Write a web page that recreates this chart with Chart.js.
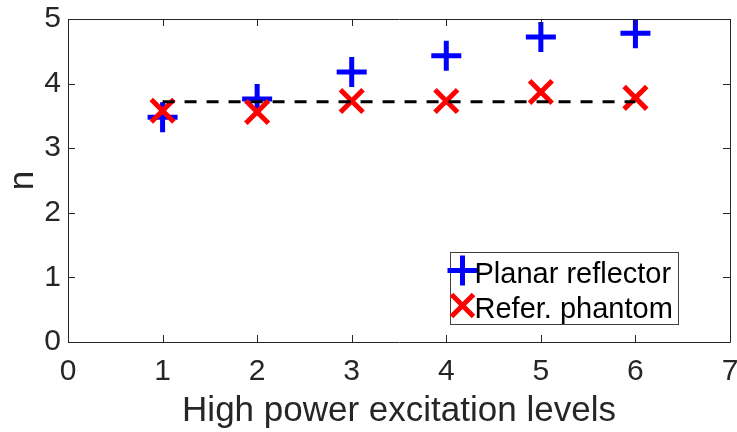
<!DOCTYPE html>
<html><head><meta charset="utf-8">
<script src="https://cdn.jsdelivr.net/npm/chart.js@4.4.1/dist/chart.umd.min.js"></script>
<style>html,body{margin:0;padding:0;background:#fff;overflow:hidden}#c{display:block}</style>
</head><body><canvas id="c" width="737" height="432" style="width:737px;height:432px"></canvas>
<script>
// ---- data ----
const levels = [1, 2, 3, 4, 5, 6];
const planarReflector = [3.48, 3.76, 4.18, 4.43, 4.72, 4.78];
const referPhantom = [3.58, 3.56, 3.73, 3.73, 3.87, 3.78];
const refLineX = [1, 6];
const refLineY = [3.72, 3.72];
const xTicks = [0, 1, 2, 3, 4, 5, 6, 7];
const yTicks = [0, 1, 2, 3, 4, 5];
const seriesLabels = ['Planar reflector', 'Refer. phantom'];
const xTitle = 'High power excitation levels';
const yTitle = 'n';

const FONT = "'Liberation Sans', Arial, Helvetica, sans-serif";
const AX = '#262626';

const toPts = (xs, ys) => xs.map((x, i) => ({x, y: ys[i]}));

const framePlugin = {
  id: 'frame',
  afterDraw(chart) {
    const {ctx, chartArea: a, scales: {x, y}} = chart;
    ctx.save();
    ctx.strokeStyle = AX;
    ctx.lineWidth = 1;
    ctx.beginPath();
    ctx.rect(Math.round(a.left) + 0.5, Math.round(a.top) + 0.5, Math.round(a.right - a.left), Math.round(a.bottom - a.top));
    ctx.stroke();
    const tl = 7;
    ctx.beginPath();
    xTicks.forEach(v => {
      const px = Math.round(x.getPixelForValue(v)) + 0.5;
      ctx.moveTo(px, a.bottom); ctx.lineTo(px, a.bottom - tl);
      ctx.moveTo(px, a.top); ctx.lineTo(px, a.top + tl);
    });
    yTicks.forEach(v => {
      const py = Math.round(y.getPixelForValue(v)) + 0.5;
      ctx.moveTo(a.left, py); ctx.lineTo(a.left + tl, py);
      ctx.moveTo(a.right, py); ctx.lineTo(a.right - tl, py);
    });
    ctx.stroke();

    // legend inside the axes, lower right
    const bw = 228, bh = 72;
    const bx = Math.round(a.right - 52 - bw) + 0.5;
    const by = Math.round(a.bottom - 18 - bh) + 0.5;
    ctx.fillStyle = '#fff';
    ctx.fillRect(bx, by, bw, bh);
    ctx.strokeStyle = '#404040';
    ctx.lineWidth = 1;
    ctx.strokeRect(bx, by, bw, bh);
    const items = seriesLabels.map(l => chart.data.datasets.find(d => d.label === l));
    items.forEach((d, i) => {
      const cy = by + 18 + i * 35;
      const cx = bx + 12;
      ctx.strokeStyle = d.borderColor;
      ctx.lineWidth = d.borderWidth;
      ctx.lineCap = 'butt';
      ctx.beginPath();
      if (d.pointStyle === 'cross') {
        const r = 15;
        ctx.moveTo(cx - r, cy); ctx.lineTo(cx + r, cy);
        ctx.moveTo(cx, cy - r); ctx.lineTo(cx, cy + r);
      } else {
        const r = 11;
        ctx.moveTo(cx - r, cy - r); ctx.lineTo(cx + r, cy + r);
        ctx.moveTo(cx - r, cy + r); ctx.lineTo(cx + r, cy - r);
      }
      ctx.stroke();
      ctx.fillStyle = '#000';
      ctx.font = '29px ' + FONT;
      ctx.textBaseline = 'alphabetic';
      ctx.textAlign = 'left';
      ctx.fillText(d.label, bx + 24, cy + 12);
    });
    ctx.restore();
  }
};

const noPad = s => { s.paddingLeft = 0; s.paddingRight = 0; s.paddingTop = 0; s.paddingBottom = 0; };

new Chart(document.getElementById('c'), {
  type: 'scatter',
  data: {
    datasets: [
      {
        label: 'ref', data: toPts(refLineX, refLineY), showLine: true,
        borderColor: '#000', borderWidth: 3, borderDash: [12, 10],
        pointRadius: 0, order: 0
      },
      {
        label: seriesLabels[1], data: toPts(levels, referPhantom),
        pointStyle: 'crossRot', pointRadius: 16, borderColor: '#ff0000', backgroundColor: '#ff0000',
        borderWidth: 5, pointBorderWidth: 5, order: 1
      },
      {
        label: seriesLabels[0], data: toPts(levels, planarReflector),
        pointStyle: 'cross', pointRadius: 15, borderColor: '#0000ff', backgroundColor: '#0000ff',
        borderWidth: 5, pointBorderWidth: 5, order: 2
      }
    ]
  },
  options: {
    responsive: false, animation: false,
    devicePixelRatio: 1,
    layout: {autoPadding: false, padding: {left: 0, right: 7, top: 19, bottom: 0}},
    plugins: {legend: {display: false}, tooltip: {enabled: false}},
    scales: {
      x: {
        type: 'linear', min: 0, max: 7,
        afterBuildTicks: s => { s.ticks = xTicks.map(v => ({value: v})); },
        afterFit: s => { s.height = 90; noPad(s); },
        grid: {display: false, drawTicks: false},
        border: {display: false},
        ticks: {color: AX, font: {family: FONT, size: 30}, padding: 12, maxRotation: 0},
        title: {display: true, text: xTitle, color: AX, font: {family: FONT, size: 35}, padding: {top: 0, bottom: 0}}
      },
      y: {
        type: 'linear', min: 0, max: 5,
        afterBuildTicks: s => { s.ticks = yTicks.map(v => ({value: v})); },
        afterFit: s => { s.width = 68; noPad(s); },
        grid: {display: false, drawTicks: false},
        border: {display: false},
        ticks: {color: AX, font: {family: FONT, size: 30}, padding: 7},
        title: {display: true, text: yTitle, color: AX, font: {family: FONT, size: 35}, padding: {top: 2, bottom: 0}}
      }
    }
  },
  plugins: [framePlugin]
});
</script></body></html>
